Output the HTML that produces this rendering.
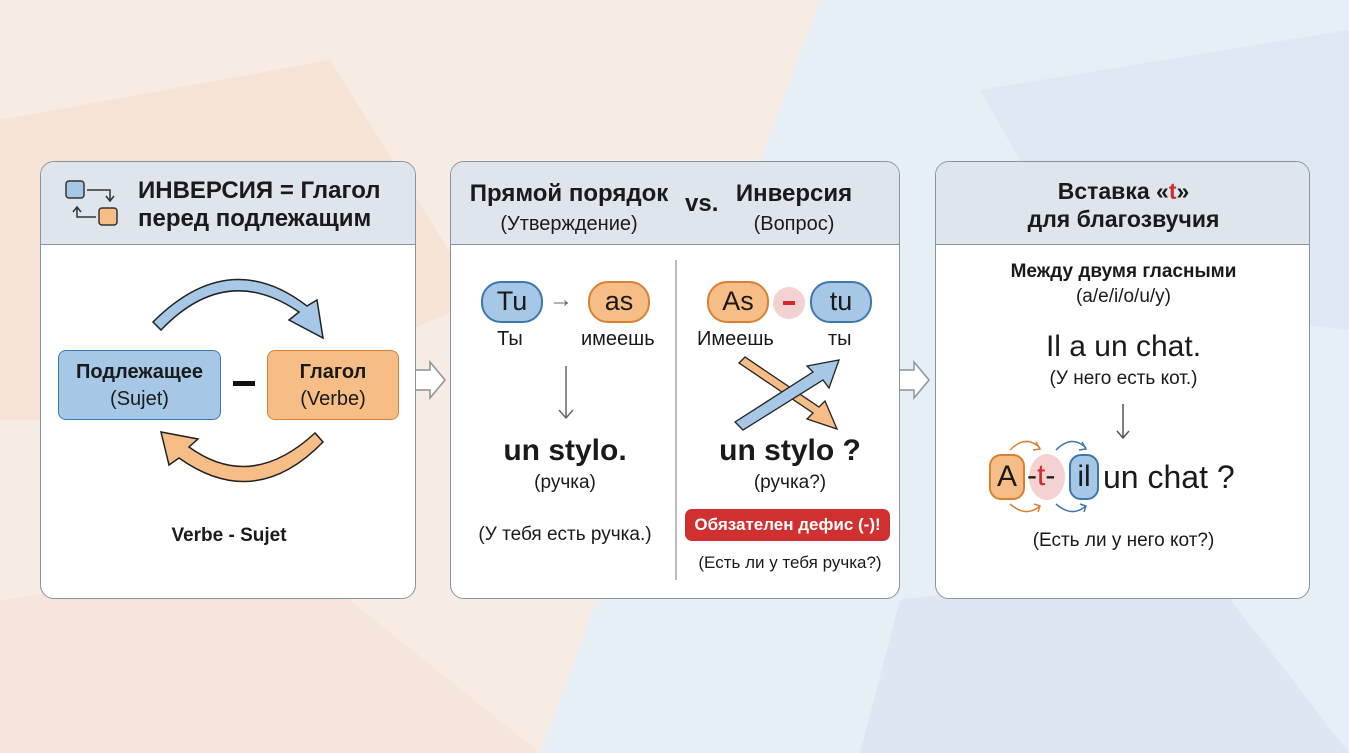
<!DOCTYPE html>
<html><head><meta charset="utf-8"><style>
*{margin:0;padding:0;box-sizing:border-box}
body{width:1349px;height:753px;overflow:hidden;position:relative;font-family:"Liberation Sans","DejaVu Sans",sans-serif;color:#1a1a1a;background:#f6eee8}
.bg{position:absolute;left:0;top:0}
.p{position:absolute;top:161px;height:438px;background:#fff;border:1.5px solid #8b939c;border-radius:14px;overflow:hidden}
.h{position:absolute;left:0;right:0;top:0;height:83px;background:#dfe5ec;border-bottom:1.5px solid #8b939c}
.t{position:absolute;white-space:nowrap;text-align:center}
.b{font-weight:bold}
.pill{position:absolute;border:2px solid;border-radius:20px;text-align:center;font-size:27px;line-height:36px}
.bl{background:#a6c8e6;border-color:#3d78ad}
.or{background:#f7bd86;border-color:#d98035}
</style></head><body>
<svg class="bg" width="1349" height="753">
<rect width="1349" height="753" fill="#f7ece4"/>
<polygon points="820,0 1349,0 1349,753 540,753" fill="#e6eef6"/>
<polygon points="0,120 330,60 480,300 200,420 0,420" fill="#f5dfcf" opacity=".7"/>
<polygon points="0,600 300,560 540,753 0,753" fill="#f3e2d6" opacity=".7"/>
<polygon points="980,90 1349,30 1349,330 1100,300" fill="#dbe6f1" opacity=".8"/>
<polygon points="900,600 1200,560 1349,753 860,753" fill="#dbe5f0" opacity=".8"/>
<g fill="#fff" stroke="#8b939c" stroke-width="1.5">
<polygon points="415,370 430,370 430,362 445,380 430,398 430,390 415,390"/>
<polygon points="899,370 914,370 914,362 929,380 914,398 914,390 899,390"/>
</g>
</svg>

<div class="p" style="left:40px;width:376px">
<div class="h"></div>
<svg style="position:absolute;left:22px;top:16px" width="60" height="52">
<rect x="3" y="3" width="18" height="17" rx="3" fill="#a6c8e6" stroke="#333" stroke-width="1.5"/>
<rect x="36" y="30" width="18" height="17" rx="3" fill="#f7bd86" stroke="#333" stroke-width="1.5"/>
<path d="M24 12 H47 V22 M43 18 L47 23 L51 18" fill="none" stroke="#333" stroke-width="1.5"/>
<path d="M33 39 H14 V30 M10 34 L14 29 L18 34" fill="none" stroke="#333" stroke-width="1.5"/>
</svg>
<div class="t b" style="left:97px;top:15px;font-size:24px;line-height:28px;text-align:left">ИНВЕРСИЯ = Глагол<br>перед подлежащим</div>
<svg style="position:absolute;left:0;top:0" width="376" height="438">
<path d="M120 168 Q185 100 258 150 L248 158 L282 176 L276 138 L266 144 Q188 84 112 160 Z" fill="#a6c8e6" stroke="#222" stroke-width="1.5"/>
<path d="M274 271 Q210 330 148 285 L157 277 L120 270 L128 303 L138 296 Q214 350 282 280 Z" fill="#f7bd86" stroke="#222" stroke-width="1.5"/>
<rect x="192" y="219" width="22" height="5" fill="#111"/>
</svg>
<div style="position:absolute;left:17px;top:188px;width:163px;height:70px;background:#a6c8e6;border:1.5px solid #3d78ad;border-radius:8px"></div>
<div class="t" style="left:17px;top:197px;width:163px;font-size:20px;line-height:27px"><b>Подлежащее</b><br>(Sujet)</div>
<div style="position:absolute;left:226px;top:188px;width:132px;height:70px;background:#f7bd86;border:1.5px solid #d98035;border-radius:8px"></div>
<div class="t" style="left:226px;top:197px;width:132px;font-size:20px;line-height:27px"><b>Глагол</b><br>(Verbe)</div>
<div class="t b" style="left:0;width:376px;top:363px;font-size:19px">Verbe - Sujet</div>
</div>

<div class="p" style="left:450px;width:450px">
<div class="h"></div>
<div class="t" style="left:10px;width:216px;top:17px;font-size:24px;line-height:29px"><b>Прямой порядок</b><br><span style="font-size:20px">(Утверждение)</span></div>
<div class="t b" style="left:234px;top:28px;font-size:24px">vs.</div>
<div class="t" style="left:268px;width:150px;top:17px;font-size:24px;line-height:29px"><b>Инверсия</b><br><span style="font-size:20px">(Вопрос)</span></div>
<div style="position:absolute;left:224px;top:98px;width:2px;height:320px;background:#b8bec5"></div>
<div class="pill bl" style="left:30px;top:119px;width:62px;height:42px">Tu</div>
<div class="t" style="left:98px;top:124px;font-size:24px;color:#666">→</div>
<div class="pill or" style="left:137px;top:119px;width:62px;height:42px">as</div>
<div class="t" style="left:46px;top:166px;font-size:20px">Ты</div>
<div class="t" style="left:130px;top:166px;font-size:20px">имеешь</div>
<svg style="position:absolute;left:105px;top:204px" width="20" height="56"><path d="M10 0 V52 M3 44 L10 52 L17 44" fill="none" stroke="#666" stroke-width="1.5"/></svg>
<div class="t b" style="left:0;width:228px;top:272px;font-size:30px">un stylo.</div>
<div class="t" style="left:0;width:228px;top:310px;font-size:19px">(ручка)</div>
<div class="t" style="left:0;width:228px;top:362px;font-size:19px">(У тебя есть ручка.)</div>
<div class="pill or" style="left:256px;top:119px;width:62px;height:42px">As</div>
<div style="position:absolute;left:322px;top:125px;width:32px;height:32px;border-radius:50%;background:#f5d2d2"></div>
<div style="position:absolute;left:332px;top:139px;width:12px;height:4px;background:#d02a2a"></div>
<div class="pill bl" style="left:359px;top:119px;width:62px;height:42px">tu</div>
<div class="t" style="left:246px;top:166px;font-size:20px">Имеешь</div>
<div class="t" style="left:377px;top:166px;font-size:20px">ты</div>
<svg style="position:absolute;left:270px;top:190px" width="130" height="85">
<path d="M18 6 L92 56 L86 62 L116 72 L104 44 L98 50 L24 0 Z" fill="#f7bd86" stroke="#222" stroke-width="1.3" transform="translate(0,5)"/>
<path d="M14 70 L92 20 L86 14 L118 8 L108 36 L102 28 L22 78 Z" fill="#a6c8e6" stroke="#222" stroke-width="1.3"/>
</svg>
<div class="t b" style="left:228px;width:222px;top:272px;font-size:30px">un stylo ?</div>
<div class="t" style="left:228px;width:222px;top:310px;font-size:19px">(ручка?)</div>
<div class="t b" style="left:234px;top:347px;width:205px;height:32px;line-height:32px;background:#d0302f;color:#fff;border-radius:7px;font-size:17px">Обязателен дефис (-)!</div>
<div class="t" style="left:228px;width:222px;top:391px;font-size:17px">(Есть ли у тебя ручка?)</div>
</div>

<div class="p" style="left:935px;width:375px">
<div class="h"></div>
<div class="t b" style="left:0;width:375px;top:15px;font-size:23px;line-height:28px">Вставка «<span style="color:#d02a2a">t</span>»<br>для благозвучия</div>
<div class="t" style="left:0;width:375px;top:97px;font-size:19px;line-height:25px"><b>Между двумя гласными</b><br>(a/e/i/o/u/y)</div>
<div class="t" style="left:0;width:375px;top:168px;font-size:30px">Il a un chat.</div>
<div class="t" style="left:0;width:375px;top:206px;font-size:19px">(У него есть кот.)</div>
<svg style="position:absolute;left:177px;top:240px" width="20" height="40"><path d="M10 2 V36 M4 29 L10 36 L16 29" fill="none" stroke="#555" stroke-width="1.5"/></svg>
<svg style="position:absolute;left:60px;top:272px" width="110" height="84">
<path d="M14 16 Q30 0 44 14" fill="none" stroke="#d98035" stroke-width="1.5"/><path d="M40 8 L44 15 L37 16" fill="none" stroke="#d98035" stroke-width="1.5"/>
<path d="M60 16 Q76 0 90 14" fill="none" stroke="#3d78ad" stroke-width="1.5"/><path d="M86 8 L90 15 L83 16" fill="none" stroke="#3d78ad" stroke-width="1.5"/>
<path d="M14 70 Q30 84 44 72" fill="none" stroke="#d98035" stroke-width="1.5"/><path d="M38 70 L44 72 L42 78" fill="none" stroke="#d98035" stroke-width="1.5"/>
<path d="M60 70 Q76 84 90 72" fill="none" stroke="#3d78ad" stroke-width="1.5"/><path d="M84 70 L90 72 L88 78" fill="none" stroke="#3d78ad" stroke-width="1.5"/>
</svg>
<div style="position:absolute;left:93px;top:292px;width:36px;height:46px;border-radius:50%;background:#f5d2d2"></div>
<div class="pill or" style="left:53px;top:292px;width:36px;height:46px;border-radius:12px;font-size:30px;line-height:42px">A</div>
<div class="t" style="left:91px;top:297px;font-size:30px">-<span style="color:#d02a2a">t</span>-</div>
<div class="pill bl" style="left:133px;top:292px;width:30px;height:46px;border-radius:12px;font-size:30px;line-height:42px">il</div>
<div class="t" style="left:167px;top:297px;font-size:32px">un chat ?</div>
<div class="t" style="left:0;width:375px;top:368px;font-size:19px">(Есть ли у него кот?)</div>
</div>
</body></html>
